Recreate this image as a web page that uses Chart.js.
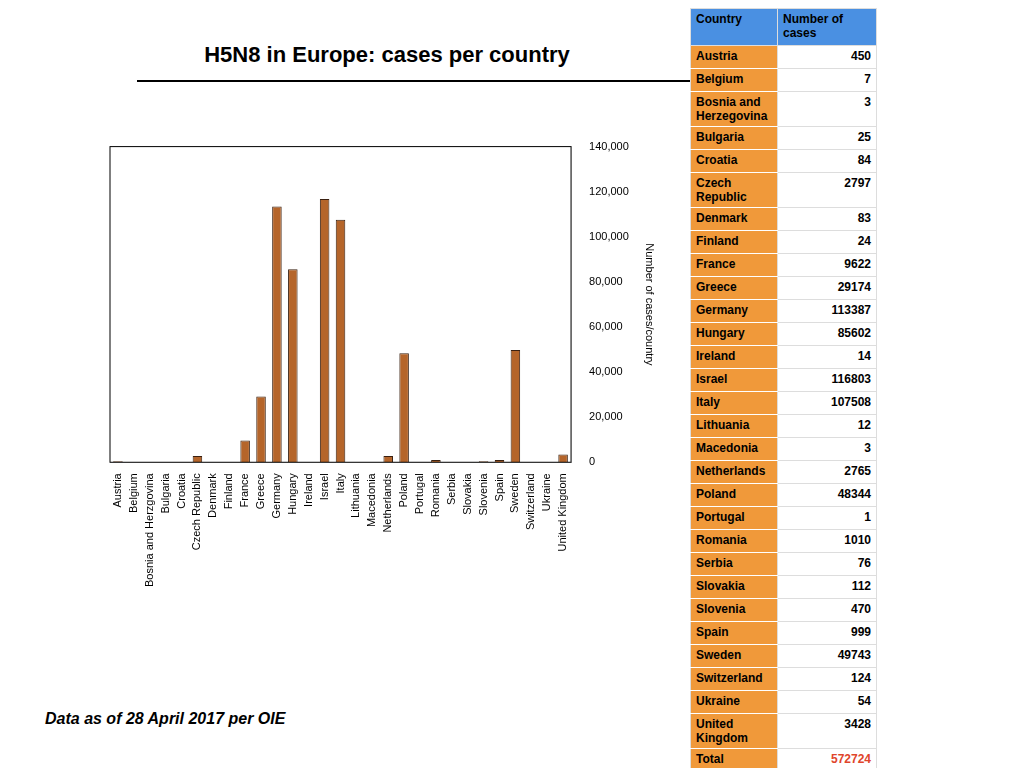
<!DOCTYPE html>
<html><head><meta charset="utf-8">
<script src="https://cdn.jsdelivr.net/npm/chart.js@4"></script>
<style>
body{margin:0;width:1024px;height:768px;background:#fff;font-family:"Liberation Sans",Arial,sans-serif;position:relative;overflow:hidden}
#title{position:absolute;left:137px;width:500px;top:42px;text-align:center;font-size:22px;font-weight:bold}
#rule{position:absolute;left:137px;width:555px;top:80px;border-top:2px solid #000}
#note{position:absolute;left:45px;top:710px;font-size:16px;font-weight:bold;font-style:italic}
#wrap{position:absolute;left:100px;top:130px;width:560px;height:460px}
table{position:absolute;left:690px;top:8px;border-collapse:collapse;font-size:12px;font-weight:bold}
td{border:1px solid #ddd;padding:3px 5px;vertical-align:top;height:16px}
td.c{background:#F0993A;width:76px;border-color:#fff #ddd}
td.v{text-align:right;width:88px}
tr.h td{background:#4A90E2;color:#000;text-align:left;height:30px}
</style></head><body>
<div id="title">H5N8 in Europe: cases per country</div>
<div id="rule"></div>
<div id="wrap"><canvas id="c"></canvas></div>
<table id="t"></table>
<div id="note">Data as of 28 April 2017 per OIE</div>
<script>
var countries=['Austria','Belgium','Bosnia and Herzgovina','Bulgaria','Croatia','Czech Republic','Denmark','Finland','France','Greece','Germany','Hungary','Ireland','Israel','Italy','Lithuania','Macedonia','Netherlands','Poland','Portugal','Romania','Serbia','Slovakia','Slovenia','Spain','Sweden','Switzerland','Ukraine','United Kingdom'];
var tableNames=['Austria','Belgium','Bosnia and Herzegovina','Bulgaria','Croatia','Czech Republic','Denmark','Finland','France','Greece','Germany','Hungary','Ireland','Israel','Italy','Lithuania','Macedonia','Netherlands','Poland','Portugal','Romania','Serbia','Slovakia','Slovenia','Spain','Sweden','Switzerland','Ukraine','United Kingdom'];
var cases=[450,7,3,25,84,2797,83,24,9622,29174,113387,85602,14,116803,107508,12,3,2765,48344,1,1010,76,112,470,999,49743,124,54,3428];
var total=572724;
var yTicks=[0,20000,40000,60000,80000,100000,120000,140000];

var t=document.getElementById('t');
var html='<tr class="h"><td>Country</td><td>Number of cases</td></tr>';
tableNames.forEach(function(n,i){html+='<tr><td class="c">'+n+'</td><td class="v">'+cases[i]+'</td></tr>';});
html+='<tr><td class="c">Total</td><td class="v" style="color:#E0452B">'+total+'</td></tr>';
t.innerHTML=html;

var box={id:'box',afterDraw:function(ch){var a=ch.chartArea,c=ch.ctx;c.save();c.strokeStyle='#000';c.lineWidth=1;c.strokeRect(a.left,a.top,a.right-a.left,a.bottom-a.top);c.restore();}};
new Chart(document.getElementById('c'),{
type:'bar',
data:{labels:countries,datasets:[{data:cases,backgroundColor:'#B5652A',borderColor:'#3a2010',borderWidth:1,barPercentage:0.6,categoryPercentage:1}]},
options:{responsive:true,maintainAspectRatio:false,animation:false,
layout:{padding:{left:10,top:11,right:0,bottom:0}},
plugins:{legend:{display:false},tooltip:{enabled:false}},
scales:{
x:{grid:{display:false},ticks:{color:'#000',font:{size:11,family:'Liberation Sans'},minRotation:90,maxRotation:90,autoSkip:false}},
y:{position:'right',min:0,max:140000,afterBuildTicks:function(s){s.ticks=yTicks.map(function(v){return{value:v};});},grid:{display:false},
ticks:{color:'#000',padding:10,font:{size:11,family:'Liberation Sans'}},
title:{display:true,text:'Number of cases/country',color:'#000',font:{size:11,family:'Liberation Sans'}}}
}},
plugins:[box]});
</script>
</body></html>
